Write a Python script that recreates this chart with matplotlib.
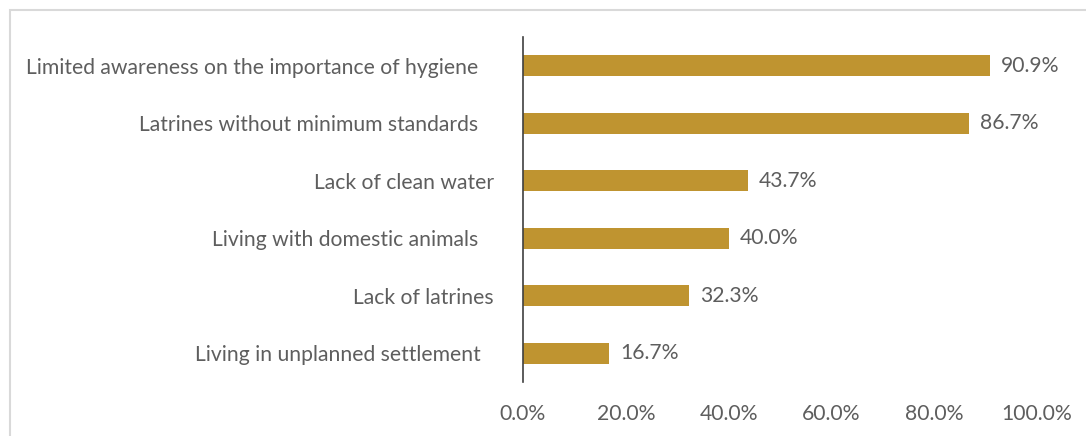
import matplotlib
matplotlib.use('Agg')
import matplotlib.pyplot as plt
import matplotlib.transforms as mtransforms
from matplotlib.patches import Rectangle
from matplotlib.ticker import FuncFormatter

# data, bottom to top as drawn
categories = ['Living in unplanned settlement',
              'Lack of latrines',
              'Living with domestic animals',
              'Lack of clean water',
              'Latrines without minimum standards',
              'Limited awareness on the importance of hygiene']
values = [16.7, 32.3, 40.0, 43.7, 86.7, 90.9]
xticks = [0, 20, 40, 60, 80, 100]
# small horizontal nudges (px) of the category labels, like the source
label_shift = [-13, 0, -16, 0, -16, -16]

BAR = '#BF9430'
TXT = '#5E5E5E'
FS = 15.2

plt.rcParams['font.family'] = ['Lato', 'DejaVu Sans']

fig = plt.figure(figsize=(10.86, 4.36), dpi=100)
fig.patches.append(Rectangle((10 / 1086, -0.1), 1.2, (436 - 10) / 436 + 0.1,
                             transform=fig.transFigure, fill=False,
                             edgecolor='#D9D9D9', linewidth=1.5))

ax = fig.add_axes([523 / 1086, 1 - 382 / 436, 514 / 1086, 345 / 436])
ypos = range(len(categories))
ax.barh(ypos, values, height=0.36, color=BAR)

for y, v in zip(ypos, values):
    ax.annotate('{:.1f}%'.format(v), (v, y), xytext=(8, 0),
                textcoords='offset points', va='center', ha='left',
                fontsize=FS, color=TXT)

ax.set_xlim(0, 100)
ax.set_ylim(-0.5, len(categories) - 0.5)
ax.set_xticks(xticks)
ax.xaxis.set_major_formatter(FuncFormatter(lambda x, p: '{:.1f}%'.format(x)))
ax.set_yticks(list(ypos))
ax.set_yticklabels(categories)
ax.tick_params(axis='both', length=0, labelsize=FS, labelcolor=TXT)
ax.tick_params(axis='y', pad=21)
ax.tick_params(axis='x', pad=15.5)

for lab, dx in zip(ax.get_yticklabels(), label_shift):
    lab.set_transform(lab.get_transform() +
                      mtransforms.ScaledTranslation(dx / 100, 0, fig.dpi_scale_trans))

for s in ['top', 'right', 'bottom']:
    ax.spines[s].set_visible(False)
ax.spines['left'].set_color('#404040')
ax.spines['left'].set_linewidth(1.2)

fig.savefig('out.png', dpi=100)
